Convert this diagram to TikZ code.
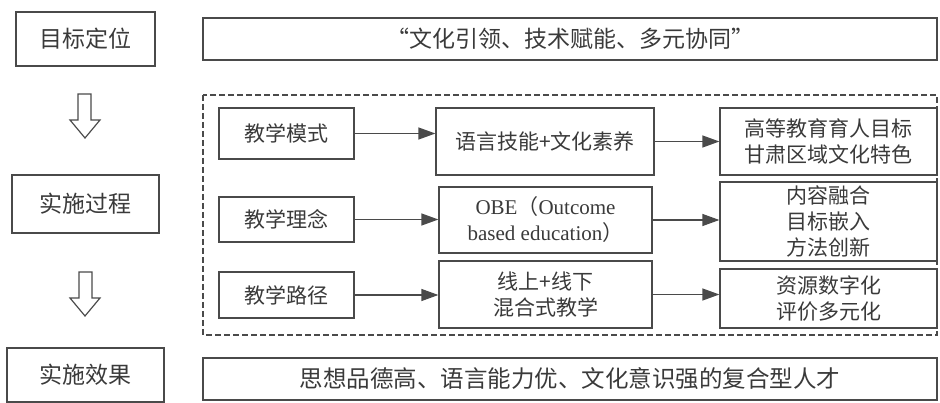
\documentclass[tikz,border=0pt]{standalone}
\usepackage{fontspec}
\setmainfont{Noto Sans CJK SC}
\newfontfamily\lat{Liberation Serif}
\usetikzlibrary{arrows.meta}
\definecolor{ln}{HTML}{4A4A4A}
\definecolor{tx}{HTML}{3A3A3A}
\tikzset{
  box/.style={draw=ln, line width=1.2pt, rectangle, inner sep=0pt, align=center, text=tx},
  big/.style={box, font=\fontsize{23}{27}\selectfont},
  wide/.style={box, font=\fontsize{23.5}{27}\selectfont},
  small/.style={box, font=\fontsize{21}{26}\selectfont},
  conn/.style={draw=ln, line width=1.2pt, -{Triangle[length=17pt,width=12pt]}},
  hollow/.style={draw=ln, line width=1.2pt, fill=white, line join=miter},
}
\begin{document}
\begin{tikzpicture}[x=1pt,y=-1pt]
\useasboundingbox (0,0) rectangle (940,403);
% left column
\node[big, minimum width=139pt, minimum height=54pt] (goal) at (85.5,39) {目标定位};
\node[big, minimum width=147pt, minimum height=58pt] (proc) at (85.5,204) {实施过程};
\node[big, minimum width=157pt, minimum height=54pt] (eff) at (85.5,375) {实施效果};
% hollow arrows
\draw[hollow] (78,94) -- (91,94) -- (91,120) -- (100,120) -- (85,138) -- (70,120) -- (78,120) -- cycle;
\draw[hollow] (79,272) -- (92,272) -- (92,298) -- (100,298) -- (85,316) -- (70,298) -- (79,298) -- cycle;
% top and bottom wide boxes
\node[big, minimum width=734pt, minimum height=42pt] (top) at (570,39) {“文化引领、技术赋能、多元协同”};
\node[wide, minimum width=734pt, minimum height=42pt] (bot) at (570,379) {思想品德高、语言能力优、文化意识强的复合型人才};
% dashed frame
\draw[ln, line width=1.1pt, dash pattern=on 6pt off 3pt] (203,95) rectangle (937,335);
% column 1
\node[small, minimum width=135pt, minimum height=51pt] (m1) at (286.5,133.5) {教学模式};
\node[small, minimum width=135pt, minimum height=45pt] (m2) at (286.5,219.5) {教学理念};
\node[small, minimum width=135pt, minimum height=46pt] (m3) at (286.5,295) {教学路径};
% column 2
\node[small, minimum width=218pt, minimum height=67pt] (c1) at (545,141.5) {语言技能+文化素养};
\node[small, minimum width=213pt, minimum height=66pt] (c2) at (545.5,220) {{\lat OBE}（{\lat Outcome}\\{\lat based education}）};
\node[small, minimum width=213pt, minimum height=67pt] (c3) at (545.5,294.5) {线上+线下\\混合式教学};
% column 3
\node[small, minimum width=217pt, minimum height=67pt] (r1) at (828.5,141.5) {高等教育育人目标\\甘肃区域文化特色};
\node[small, minimum width=217pt, minimum height=79pt] (r2) at (828.5,221.5) {内容融合\\目标嵌入\\方法创新};
\node[small, minimum width=217pt, minimum height=59pt] (r3) at (828.5,298.5) {资源数字化\\评价多元化};
% connectors
\draw[conn] (m1.east) -- (m1.east -| c1.west);
\draw[conn] (m2.east) -- (m2.east -| c2.west);
\draw[conn] (m3.east) -- (m3.east -| c3.west);
\draw[conn] (c1.east) -- (c1.east -| r1.west);
\draw[conn] (c2.east) -- (c2.east -| r2.west);
\draw[conn] (c3.east) -- (c3.east -| r3.west);
\end{tikzpicture}
\end{document}
